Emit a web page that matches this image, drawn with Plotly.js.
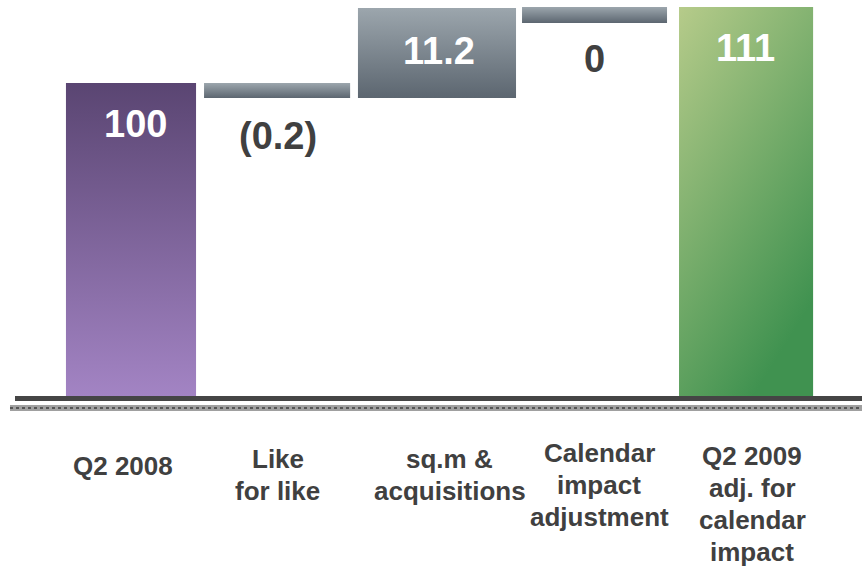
<!DOCTYPE html>
<html>
<head>
<meta charset="utf-8">
<script src="https://cdn.plot.ly/plotly-3.0.1.min.js"></script>
<style>html,body{margin:0;padding:0;background:#fff;}#chart{width:862px;height:566px;}</style>
</head>
<body>
<div id="chart"></div>
<script>
// ---- data ----
const categories = ["Q2 2008", "Like<br>for like", "sq.m &<br>acquisitions", "Calendar<br>impact<br>adjustment", "Q2 2009<br>adj. for<br>calendar<br>impact"];
const values = [100, -0.2, 11.2, 0, 111];
const valueLabels = ["100", "(0.2)", "11.2", "0", "111"];
// bar extents as drawn in the source (the source chart is not to scale)
const barBottom = [0, 95.2, 95.2, 119.1, 0];
const barTop = [100, 100, 123.9, 124.2, 124.2];

// ---- styling ----
const barWidths = [0.846, 0.95, 1.028, 0.943, 0.872];
const barOffsets = [-0.423, -0.525, -0.524, -0.457, -0.436];
const labelInside = [true, false, true, false, true];
const valueXShift = [4, -7, 0, 2, -1];
const valueYShift = [-41, -38, -43, -36, -41];
const catXShift = [-8, -7, 11, 7, 6];
const catFirstLineDrop = [69, 62, 62, 56, 59]; // px below the axis for the first line centre
const catLineGap = 32;
const gradients = [
  {id: "gPurple", x2: 0, y2: 1, stops: ["#5a4572", "#a384c4"]},
  {id: "gGray", x2: 0, y2: 1, stops: ["#9ca6ad", "#5c6670"]},
  {id: "gGray", x2: 0, y2: 1, stops: ["#9ca6ad", "#5c6670"]},
  {id: "gGray", x2: 0, y2: 1, stops: ["#9ca6ad", "#5c6670"]},
  {id: "gGreen", x2: 0.55, y2: 1, stops: ["#b6cb8a", "#409250"]}
];
const fallbackColors = ["#7f64a0", "#7c868f", "#7c868f", "#7c868f", "#7aad6c"];
const fontFamily = "Arial";

const xIdx = categories.map((_, i) => i);
const heights = barTop.map((t, i) => t - barBottom[i]);

const trace = {
  type: "bar",
  x: xIdx,
  y: heights,
  base: barBottom,
  width: barWidths,
  offset: barOffsets,
  marker: {color: fallbackColors, line: {width: 0}},
  hoverinfo: "skip",
  customdata: values
};

const annotations = [];
valueLabels.forEach((t, i) => {
  annotations.push({
    x: xIdx[i], xref: "x",
    y: labelInside[i] ? barTop[i] : barBottom[i], yref: "y",
    text: "<b>" + t + "</b>", showarrow: false,
    xanchor: "center", yanchor: "middle",
    xshift: valueXShift[i],
    yshift: valueYShift[i],
    font: {family: fontFamily, size: 38, color: labelInside[i] ? "#ffffff" : "#404040"}
  });
});
categories.forEach((c, i) => {
  c.split("<br>").forEach((line, k) => {
    annotations.push({
      x: xIdx[i], xref: "x", y: 0, yref: "paper",
      text: "<b>" + line + "</b>", showarrow: false,
      xanchor: "center", yanchor: "middle", align: "center",
      xshift: catXShift[i], yshift: -(catFirstLineDrop[i] + k * catLineGap),
      font: {family: fontFamily, size: 26, color: "#404040"}
    });
  });
});

const shapes = [
  {type: "rect", xref: "paper", x0: 15/862, x1: 1, yref: "paper", ysizemode: "pixel", yanchor: 0,
   y0: 1, y1: -4, fillcolor: "#454545", line: {width: 0}, layer: "above"},
  {type: "rect", xref: "paper", x0: 10/862, x1: 1, yref: "paper", ysizemode: "pixel", yanchor: 0,
   y0: -8, y1: -14, fillcolor: "#a0a0a0", line: {width: 0}, layer: "above"},
  {type: "line", xref: "paper", x0: 10/862, x1: 1, yref: "paper", ysizemode: "pixel", yanchor: 0,
   y0: -11, y1: -11, line: {color: "#555555", width: 2, dash: "dot"}, layer: "above"}
];

const layout = {
  width: 862, height: 566,
  margin: {l: 0, r: 0, t: 0, b: 169},
  paper_bgcolor: "#ffffff", plot_bgcolor: "#ffffff",
  showlegend: false,
  xaxis: {range: [-0.852, 4.754], showgrid: false, zeroline: false, showline: false, showticklabels: false, ticks: "", fixedrange: true},
  yaxis: {range: [0, 126.43], showgrid: false, zeroline: false, showline: false, showticklabels: false, ticks: "", fixedrange: true},
  annotations: annotations,
  shapes: shapes
};

function applyGradients(gd) {
  const svg = gd.querySelector("svg.main-svg");
  if (!svg) return;
  let defs = svg.querySelector("defs");
  if (!defs) { defs = document.createElementNS("http://www.w3.org/2000/svg", "defs"); svg.insertBefore(defs, svg.firstChild); }
  const ns = "http://www.w3.org/2000/svg";
  const done = {};
  gradients.forEach(g => {
    if (done[g.id]) return; done[g.id] = true;
    const lg = document.createElementNS(ns, "linearGradient");
    lg.setAttribute("id", g.id);
    lg.setAttribute("x1", "0"); lg.setAttribute("y1", "0");
    lg.setAttribute("x2", String(g.x2)); lg.setAttribute("y2", String(g.y2));
    g.stops.forEach((c, k) => {
      const s = document.createElementNS(ns, "stop");
      s.setAttribute("offset", k === 0 ? "0" : "1");
      s.setAttribute("stop-color", c);
      lg.appendChild(s);
    });
    defs.appendChild(lg);
  });
  const paths = gd.querySelectorAll(".barlayer .trace.bars .point path");
  paths.forEach((p, i) => { if (gradients[i]) p.style.fill = "url(#" + gradients[i].id + ")"; });
}

Plotly.newPlot("chart", [trace], layout, {displayModeBar: false, staticPlot: true}).then(gd => applyGradients(gd));
</script>
</body>
</html>
